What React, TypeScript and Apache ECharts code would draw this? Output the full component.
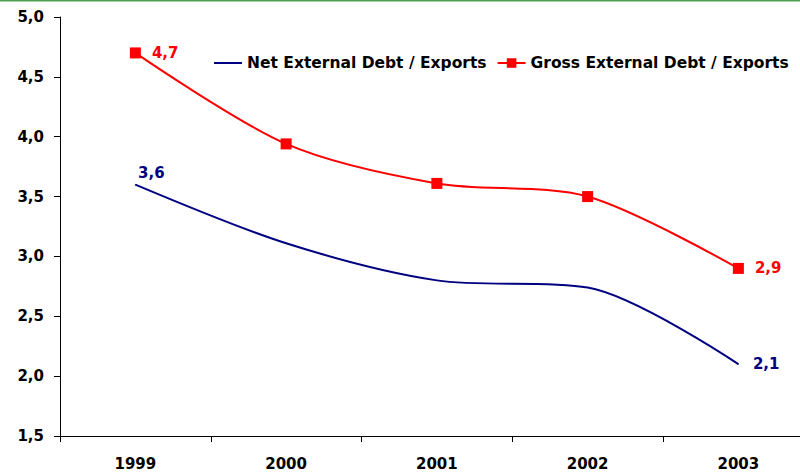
import React, { useEffect, useRef } from "react";
import * as echarts from "echarts";

const years = ["1999", "2000", "2001", "2002", "2003"];
const netDebt = [3.6, 3.11, 2.8, 2.74, 2.1];
const grossDebt = [4.7, 3.94, 3.61, 3.5, 2.9];
const netName = "Net External Debt / Exports";
const grossName = "Gross External Debt / Exports";

const FONT = "DejaVu Sans";
const fmt = (v: number) => v.toFixed(1).replace(".", ",");

export default function App() {
  const ref = useRef<HTMLDivElement>(null);
  useEffect(() => {
    if (!ref.current) return;
    const chart = echarts.init(ref.current, undefined, { renderer: "svg" });
    const last = years.length - 1;
    const netData = netDebt.map((v, i) => {
      if (i === 0)
        return {
          value: v,
          symbol: "circle",
          symbolSize: 1,
          label: { show: true, position: "top", distance: 4, offset: [16, 0] },
        };
      if (i === last)
        return {
          value: v,
          symbol: "circle",
          symbolSize: 1,
          label: { show: true, position: "right", distance: 14 },
        };
      return v;
    });
    const grossData = grossDebt.map((v, i) => {
      if (i === 0 || i === last)
        return { value: v, label: { show: true, position: "right", distance: 11 } };
      return v;
    });
    chart.setOption({
      animation: false,
      backgroundColor: "#ffffff",
      graphic: [
        {
          type: "rect",
          left: 0,
          top: 0,
          shape: { width: 800, height: 1.5 },
          style: { fill: "#4f9b4f" },
        },
      ],
      legend: {
        left: 213,
        top: 55,
        padding: 0,
        itemGap: 10,
        itemWidth: 28,
        itemHeight: 12,
        textStyle: { fontFamily: FONT, fontWeight: "bold", fontSize: 15.5, color: "#000" },
        data: [
          { name: netName, itemStyle: { color: "rgba(0,0,0,0)", opacity: 0, borderWidth: 0 } },
          { name: grossName },
        ],
      },
      grid: { left: 60, top: 17, width: 753.75, height: 419, containLabel: false },
      xAxis: {
        type: "category",
        data: years,
        boundaryGap: true,
        axisLine: { show: true, lineStyle: { color: "#000", width: 1 } },
        axisTick: { show: true, length: 6, lineStyle: { color: "#000" } },
        axisLabel: {
          margin: 20,
          fontFamily: FONT,
          fontWeight: "bold",
          fontSize: 15,
          color: "#000",
        },
        splitLine: { show: false },
      },
      yAxis: {
        type: "value",
        min: 1.5,
        max: 5,
        interval: 0.5,
        axisLine: { show: true, lineStyle: { color: "#000", width: 1 } },
        axisTick: { show: true, length: 6, lineStyle: { color: "#000" } },
        axisLabel: {
          margin: 16,
          fontFamily: FONT,
          fontWeight: "bold",
          fontSize: 15,
          color: "#000",
          formatter: (v: number) => fmt(v),
        },
        splitLine: { show: false },
      },
      series: [
        {
          name: netName,
          type: "line",
          data: netData,
          smooth: 0.3,
          symbol: "none",
          color: "#000080",
          lineStyle: { color: "#000080", width: 2 },
          itemStyle: { color: "#000080" },
          label: {
            fontFamily: FONT,
            fontWeight: "bold",
            fontSize: 15,
            color: "#000080",
            formatter: (p: any) => fmt(p.value),
          },
        },
        {
          name: grossName,
          type: "line",
          data: grossData,
          smooth: 0.3,
          symbol: "rect",
          symbolSize: 11,
          color: "#ff0000",
          lineStyle: { color: "#ff0000", width: 2 },
          itemStyle: { color: "#ff0000" },
          label: {
            fontFamily: FONT,
            fontWeight: "bold",
            fontSize: 15,
            color: "#ff0000",
            formatter: (p: any) => fmt(p.value),
          },
        },
      ],
    });
    return () => chart.dispose();
  }, []);
  return (
    <div
      style={{
        position: "absolute",
        left: 0,
        top: 0,
        width: 800,
        height: 472,
        overflow: "hidden",
        background: "#fff",
      }}
    >
      <div ref={ref} style={{ width: 814, height: 472 }} />
    </div>
  );
}
